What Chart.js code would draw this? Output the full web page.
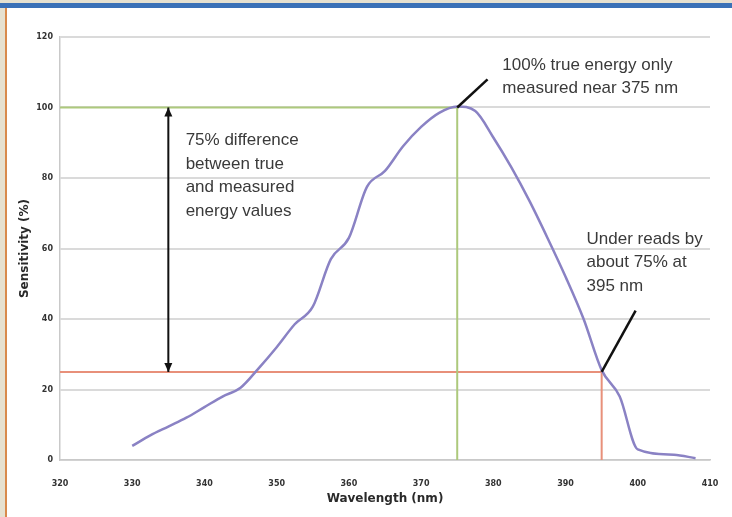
<!DOCTYPE html>
<html>
<head>
<meta charset="utf-8">
<script src="https://cdn.jsdelivr.net/npm/chart.js@4/dist/chart.umd.min.js"></script>
<style>
  html, body { margin: 0; padding: 0; }
  body { width: 732px; height: 517px; background: #e6e1d0; position: relative; overflow: hidden; }
  #topbar { position: absolute; left: 0; top: 3px; width: 732px; height: 5px; background: #3b71b7; }
  #edge { position: absolute; left: 5px; top: 8px; width: 2px; height: 509px; background: #d88a4c; }
  #panel { position: absolute; left: 7px; top: 8px; width: 725px; height: 509px; background: #fff; }
</style>
</head>
<body>
<div id="topbar"></div>
<div id="edge"></div>
<div id="panel"><canvas id="chart" width="725" height="509"></canvas></div>
<script>
// sensitivity curve
const wavelengths = [330, 332.5, 335, 337.5, 340, 342.5, 345, 347.5, 350, 352.5, 355, 357.5, 360, 362.5, 365, 367.5, 370, 372.5, 375, 377.5, 380, 382.5, 385, 387.5, 390, 392.5, 395, 397.5, 400, 405, 408];
const sensitivity = [4, 7, 9.5, 12, 15, 18, 20.5, 26, 32, 38.5, 43.5, 57, 63, 77.5, 82, 89, 94.5, 98.5, 100.3, 99, 91.5, 83, 73.5, 63, 52, 40, 25.5, 18, 3, 1.5, 0.5];

// reference levels
const trueLevel = 100;
const trueWavelength = 375;
const measuredLevel = 25;
const measuredWavelength = 395;

const xTicks = [320, 330, 340, 350, 360, 370, 380, 390, 400, 410];
const yTicks = [0, 20, 40, 60, 80, 100, 120];

const notes = [
    { x: 381.25, y: 110.7, lines: ["100% true energy only", "measured near 375 nm"] },
    { x: 337.4, y: 89.3, lines: ["75% difference", "between true", "and measured", "energy values"] },
    { x: 392.9, y: 61.4, lines: ["Under reads by", "about 75% at", "395 nm"] },
];
const arrowX = 335;
const pointerEnds = [[379.2, 108], [399.7, 42.4]];

const annotations = {
    id: "annotations",
    afterDatasetsDraw(chart) {
        const { ctx, scales: { x, y } } = chart;
        ctx.save();
        // arrow heads on the difference marker
        const ax = x.getPixelForValue(arrowX);
        const heads = [[y.getPixelForValue(trueLevel), 1], [y.getPixelForValue(measuredLevel), -1]];
        ctx.fillStyle = "#111";
        heads.forEach(([py, dir]) => {
            ctx.beginPath();
            ctx.moveTo(ax, py);
            ctx.lineTo(ax - 4, py + dir * 9);
            ctx.lineTo(ax + 4, py + dir * 9);
            ctx.closePath();
            ctx.fill();
        });
        // text notes
        ctx.fillStyle = "#3a3a3a";
        ctx.font = "17px 'Liberation Sans', Arial, sans-serif";
        ctx.textBaseline = "alphabetic";
        notes.forEach(n => {
            const px = x.getPixelForValue(n.x);
            const py = y.getPixelForValue(n.y);
            n.lines.forEach((t, i) => ctx.fillText(t, px, py + i * 23.5));
        });
        ctx.restore();
    }
};

new Chart(document.getElementById("chart"), {
    type: "line",
    data: {
        datasets: [
            {
                data: [{ x: arrowX, y: trueLevel }, { x: arrowX, y: measuredLevel }],
                borderColor: "#111", borderWidth: 2, order: 0,
            },
            {
                data: [{ x: trueWavelength, y: trueLevel }, { x: pointerEnds[0][0], y: pointerEnds[0][1] }],
                borderColor: "#111", borderWidth: 2.5, order: 0,
            },
            {
                data: [{ x: measuredWavelength, y: measuredLevel }, { x: pointerEnds[1][0], y: pointerEnds[1][1] }],
                borderColor: "#111", borderWidth: 2.5, order: 0,
            },
            {
                data: wavelengths.map((w, i) => ({ x: w, y: sensitivity[i] })),
                borderColor: "#8a82c4", borderWidth: 2.5,
                cubicInterpolationMode: "monotone", order: 1,
            },
            {
                data: [{ x: 320, y: trueLevel }, { x: trueWavelength, y: trueLevel }, { x: trueWavelength, y: 0 }],
                borderColor: "#adc97c", borderWidth: 2, order: 2,
            },
            {
                data: [{ x: 320, y: measuredLevel }, { x: measuredWavelength, y: measuredLevel }, { x: measuredWavelength, y: 0 }],
                borderColor: "#e8907a", borderWidth: 2, order: 2,
            },
        ],
    },
    options: {
        responsive: false,
        animation: false,
        elements: { point: { radius: 0 }, line: { tension: 0 } },
        layout: { padding: { top: 29, right: 22, left: 0, bottom: 0 } },
        plugins: { legend: { display: false }, tooltip: { enabled: false } },
        scales: {
            x: {
                type: "linear", min: 320, max: 410,
                afterBuildTicks: s => { s.ticks = xTicks.map(v => ({ value: v })); },
                afterFit: s => { s.height = 57; },
                grid: { display: false },
                border: { color: "#c9c9c9", width: 1.5 },
                ticks: { padding: 11, color: "#333", font: { family: "DejaVu Sans", weight: "bold", size: 8 } },
                title: {
                    display: true, text: "Wavelength (nm)", color: "#2a2a2a",
                    font: { family: "DejaVu Sans", weight: "bold", size: 12 },
                    padding: { top: 0, bottom: 11 },
                },
            },
            y: {
                min: 0, max: 120,
                afterBuildTicks: s => { s.ticks = yTicks.map(v => ({ value: v })); },
                afterFit: s => { s.width = 53; },
                grid: { color: "#dadada", lineWidth: 2, drawTicks: false },
                border: { color: "#c9c9c9", width: 1.5 },
                ticks: { padding: 7, color: "#333", font: { family: "DejaVu Sans", weight: "bold", size: 8 } },
                title: {
                    display: true, text: "Sensitivity (%)", color: "#2a2a2a",
                    font: { family: "DejaVu Sans", weight: "bold", size: 12 },
                    padding: { top: 11, bottom: 0 },
                },
            },
        },
    },
    plugins: [annotations],
});
</script>
</body>
</html>
